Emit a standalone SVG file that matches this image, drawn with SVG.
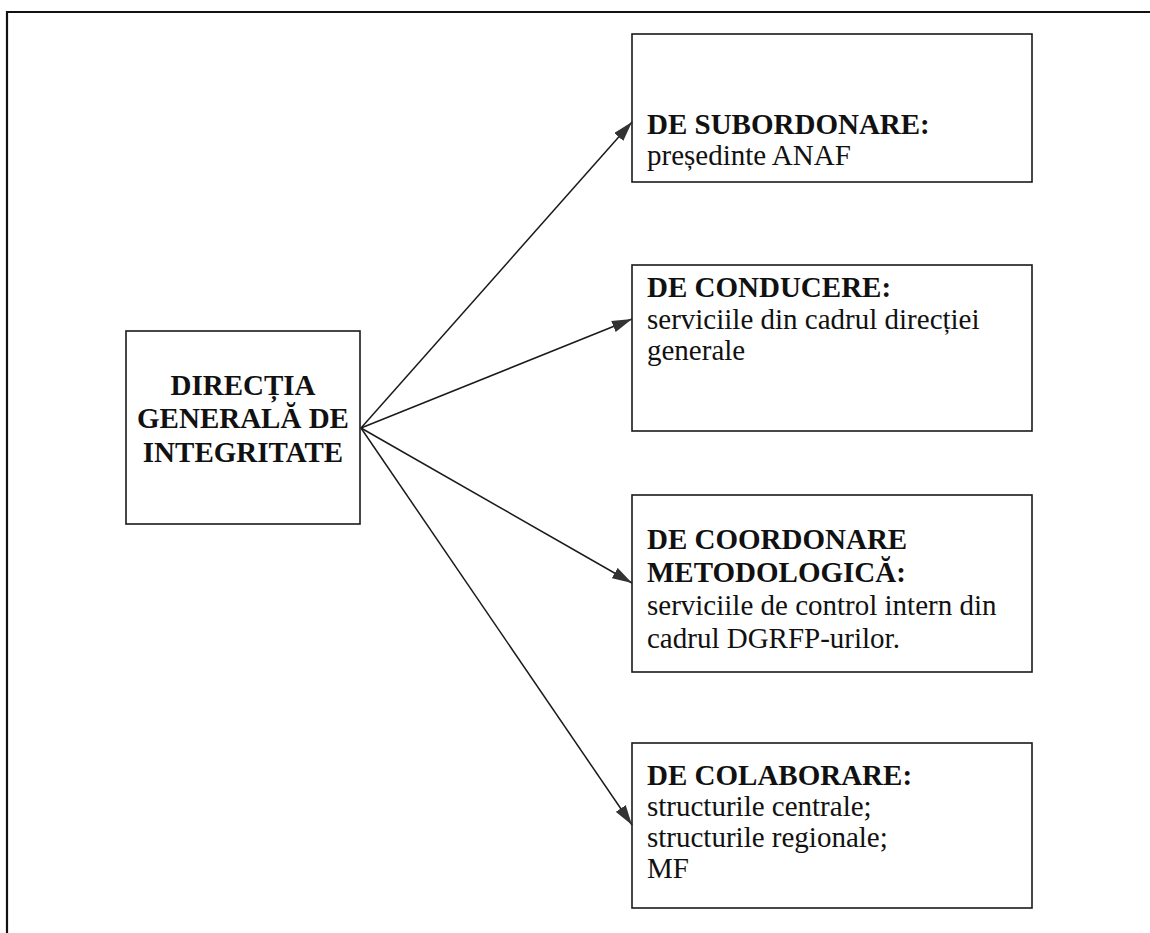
<svg xmlns="http://www.w3.org/2000/svg" width="1150" height="933" viewBox="0 0 1150 933">
<defs>
<style>
.box{fill:#fff;stroke:#1a1a1a;stroke-width:1.6}
.frame{fill:none;stroke:#111;stroke-width:2.2}
.conn{stroke:#1a1a1a;stroke-width:1.5;fill:none}
.b{font-family:"Liberation Serif","Times New Roman",serif;font-weight:bold;font-size:29px;fill:#111}
.r{font-family:"Liberation Serif","Times New Roman",serif;font-size:29px;fill:#111}
</style>
<marker id="ah" viewBox="0 0 20 12" refX="20" refY="6" markerWidth="20" markerHeight="12" markerUnits="userSpaceOnUse" orient="auto">
<path d="M0,0 L20,6 L0,12 Z" fill="#333"/>
</marker>
</defs>
<rect width="1150" height="933" fill="#fff"/>
<path class="frame" d="M7,933 L7,12 L1150,12"/>
<g id="node-main">
<rect class="box" x="126" y="331" width="234" height="193"/>
<text class="b" text-anchor="middle" x="243" y="395">DIRECȚIA</text>
<text class="b" text-anchor="middle" x="243" y="428">GENERALĂ DE</text>
<text class="b" text-anchor="middle" x="243" y="462">INTEGRITATE</text>
</g>
<g id="node-subordonare">
<rect class="box" x="632" y="34" width="400" height="148"/>
<text class="b" x="647" y="134">DE SUBORDONARE:</text>
<text class="r" x="647" y="165">președinte ANAF</text>
</g>
<g id="node-conducere">
<rect class="box" x="632" y="265" width="400" height="166"/>
<text class="b" x="647" y="297">DE CONDUCERE:</text>
<text class="r" x="647" y="329">serviciile din cadrul direcției</text>
<text class="r" x="647" y="360">generale</text>
</g>
<g id="node-coordonare">
<rect class="box" x="632" y="495" width="400" height="177"/>
<text class="b" x="647" y="549">DE COORDONARE</text>
<text class="b" x="647" y="582">METODOLOGICĂ:</text>
<text class="r" x="647" y="615">serviciile de control intern din</text>
<text class="r" x="647" y="648">cadrul DGRFP-urilor.</text>
</g>
<g id="node-colaborare">
<rect class="box" x="632" y="743" width="400" height="165"/>
<text class="b" x="647" y="785">DE COLABORARE:</text>
<text class="r" x="647" y="816">structurile centrale;</text>
<text class="r" x="647" y="847">structurile regionale;</text>
<text class="r" x="647" y="878">MF</text>
</g>
<g id="connectors">
<line class="conn" x1="361" y1="428" x2="632" y2="122" marker-end="url(#ah)"/>
<line class="conn" x1="361" y1="428" x2="632" y2="319" marker-end="url(#ah)"/>
<line class="conn" x1="361" y1="428" x2="632" y2="583" marker-end="url(#ah)"/>
<line class="conn" x1="361" y1="428" x2="632" y2="825" marker-end="url(#ah)"/>
</g>
</svg>
